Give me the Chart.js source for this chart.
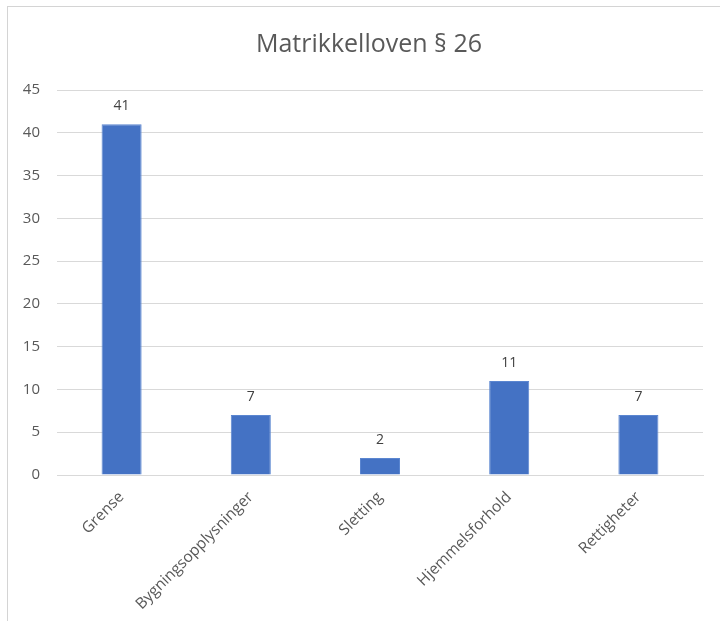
<!DOCTYPE html>
<html>
<head>
<meta charset="utf-8">
<script src="https://cdn.jsdelivr.net/npm/chart.js@4/dist/chart.umd.min.js"></script>
<style>
  html, body { margin: 0; padding: 0; background: #fff; width: 720px; height: 621px; overflow: hidden; }
  #frame { position: absolute; left: 7px; top: 6px; width: 730px; height: 620px; border-left: 1px solid #d4d4d4; border-top: 1px solid #d4d4d4; }
  #wrap { position: absolute; left: 8px; top: 7px; width: 722px; height: 614px; }
</style>
</head>
<body>
<div id="frame"></div>
<div id="wrap"><canvas id="c"></canvas></div>
<script>
const categories = ["Grense", "Bygningsopplysninger", "Sletting", "Hjemmelsforhold", "Rettigheter"];
const values = [41, 7, 2, 11, 7];
const chartTitle = "Matrikkelloven § 26";
const yMax = 45;
const yStep = 5;

const valueLabels = {
  id: 'valueLabels',
  afterDatasetsDraw(chart) {
    const ctx = chart.ctx;
    const meta = chart.getDatasetMeta(0);
    ctx.save();
    ctx.font = '14px "Open Sans"';
    ctx.fillStyle = '#404040';
    ctx.textAlign = 'center';
    ctx.textBaseline = 'bottom';
    meta.data.forEach((bar, i) => {
      ctx.fillText(String(chart.data.datasets[0].data[i]), bar.x, bar.y - 11);
    });
    ctx.restore();
  }
};

new Chart(document.getElementById('c'), {
  type: 'bar',
  data: {
    labels: categories,
    datasets: [{
      data: values,
      backgroundColor: '#4472C4',
      borderColor: '#5b86d0',
      borderWidth: 1,
      barPercentage: 0.62,
      categoryPercentage: 0.5
    }]
  },
  options: {
    responsive: true,
    maintainAspectRatio: false,
    animation: false,
    layout: { padding: 0 },
    plugins: {
      legend: { display: false },
      tooltip: { enabled: false },
      title: {
        display: true,
        text: chartTitle,
        color: '#595959',
        font: { family: 'Open Sans', size: 25, weight: 'normal' },
        padding: { top: 23, bottom: 30 }
      }
    },
    scales: {
      y: {
        min: 0,
        max: yMax,
        ticks: { stepSize: yStep, color: '#595959', padding: 17, font: { family: 'Open Sans', size: 15 } },
        grid: { color: '#d9d9d9', drawTicks: false },
        border: { display: false },
        afterFit(scale) { scale.width = 49; }
      },
      yRight: {
        position: 'right',
        min: 0,
        max: yMax,
        ticks: { display: false },
        grid: { display: false, drawTicks: false },
        border: { display: false },
        afterFit(scale) { scale.width = 27; }
      },
      x: {
        ticks: { color: '#595959', minRotation: 45, maxRotation: 45, padding: 13, font: { family: 'Open Sans', size: 15.5 } },
        grid: { display: false, drawTicks: false },
        border: { display: true, color: '#d9d9d9' },
        afterFit(scale) { scale.height = 146; }
      }
    }
  },
  plugins: [valueLabels]
});
</script>
</body>
</html>
